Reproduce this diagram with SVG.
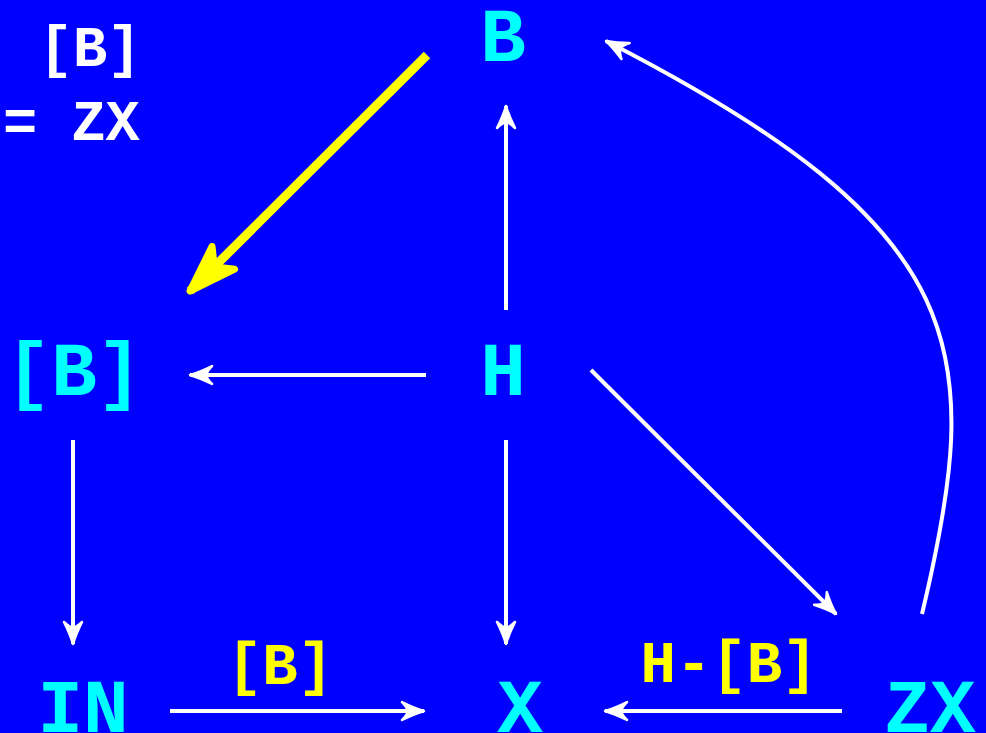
<svg xmlns="http://www.w3.org/2000/svg" width="986" height="733" viewBox="0 0 986 733">
<style>
.node{font-family:"Liberation Mono","Courier New",monospace;font-weight:bold;fill:#00FFFF;font-size:76px;text-anchor:middle}
.note{font-family:"Liberation Mono","Courier New",monospace;font-weight:bold;fill:#FFFFFF;font-size:57px}
.lbl{font-family:"Liberation Mono","Courier New",monospace;font-weight:bold;fill:#FFFF00;font-size:59px;text-anchor:middle}
.edge{fill:none;stroke:#FFFFFF;stroke-width:4}
.hl{fill:none;stroke:#FFFF00;stroke-width:9}
</style>
<defs>
<marker id="ah" viewBox="-26 -12 28 24" refX="0" refY="0" markerWidth="28" markerHeight="24" markerUnits="userSpaceOnUse" orient="auto">
<path d="M0,0 Q-10,-3 -22,-9 Q-17,-4 -16,0 Q-17,4 -22,9 Q-10,3 0,0 Z" fill="#FFFFFF" stroke="#FFFFFF" stroke-width="2.5" stroke-linejoin="round"/>
</marker>
<marker id="ahy" viewBox="-54 -24 58 48" refX="0" refY="0" markerWidth="58" markerHeight="48" markerUnits="userSpaceOnUse" orient="auto">
<path d="M0,0 L-47,-16 Q-40,-7 -34,0 Q-40,7 -47,16 Z" fill="#FFFF00" stroke="#FFFF00" stroke-width="7" stroke-linejoin="round"/>
</marker>
</defs>
<rect width="986" height="733" fill="#0000FF"/>
<g id="note">
<text class="note" x="90" y="66" text-anchor="middle">[B]</text>
<text class="note" x="3" y="140">= ZX</text>
</g>
<g id="connectors">
<line class="hl" x1="427" y1="55" x2="190" y2="291" marker-end="url(#ahy)"/>
<line class="edge" x1="506" y1="310" x2="506" y2="106" marker-end="url(#ah)"/>
<line class="edge" x1="426" y1="375" x2="190" y2="375" marker-end="url(#ah)"/>
<line class="edge" x1="506" y1="440" x2="506" y2="644" marker-end="url(#ah)"/>
<line class="edge" x1="591" y1="370" x2="836" y2="614" marker-end="url(#ah)"/>
<line class="edge" x1="73" y1="440" x2="73" y2="644" marker-end="url(#ah)"/>
<line class="edge" x1="170" y1="711" x2="424" y2="711" marker-end="url(#ah)"/>
<line class="edge" x1="842" y1="711" x2="605" y2="711" marker-end="url(#ah)"/>
<path class="edge" d="M922,614 C985,350 975,230 606,41" marker-end="url(#ah)"/>
<text class="lbl" x="280" y="684">[B]</text>
<text class="lbl" x="729" y="682">H-[B]</text>
</g>
<g id="node-B"><text class="node" x="503" y="61">B</text></g>
<g id="node-Bbr"><text class="node" x="74" y="395">[B]</text></g>
<g id="node-H"><text class="node" x="503" y="395">H</text></g>
<g id="node-IN"><text class="node" x="83" y="732">IN</text></g>
<g id="node-X"><text class="node" x="520" y="732">X</text></g>
<g id="node-ZX"><text class="node" x="930" y="732">ZX</text></g>
</svg>
